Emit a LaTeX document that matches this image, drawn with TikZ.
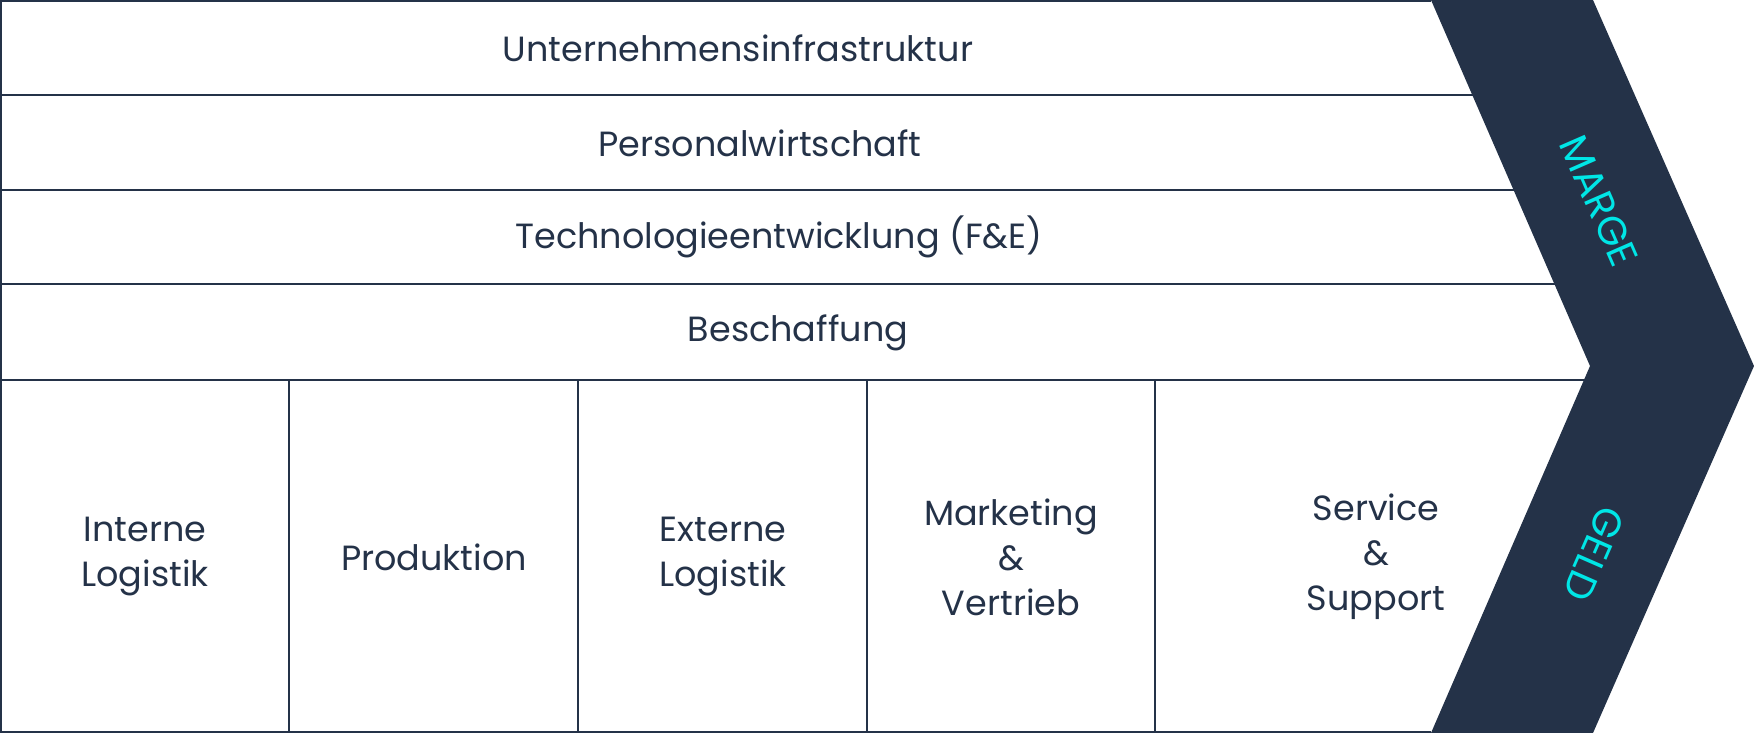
\documentclass[tikz,border=0pt]{standalone}
\usepackage{fontspec}
\setmainfont{Poppins}
\definecolor{navy}{HTML}{243248}
\definecolor{cyanl}{HTML}{00E6E6}
\begin{document}
\begin{tikzpicture}[x=1pt,y=-1pt]
\tikzset{
  frame/.style={draw=navy,line width=2pt},
  lbl/.style={text=navy,font=\fontsize{35}{45}\selectfont,align=center,inner sep=0pt},
  chev/.style={fill=navy},
  cylbl/.style={text=cyanl,font=\fontsize{40}{40}\selectfont,inner sep=0pt}
}
\useasboundingbox (0,0) rectangle (1754,733);
% frame lines
\draw[frame] (1431,1) -- (1,1) -- (1,732) -- (1431,732);
\draw[frame] (0,95) -- (1520,95);
\draw[frame] (0,190) -- (1540,190);
\draw[frame] (0,284) -- (1580,284);
\draw[frame] (0,380) -- (1600,380);
\foreach \x in {289,578,867,1155}
  \draw[frame] (\x,380) -- (\x,733);
% chevron
\fill[chev] (1431,0) -- (1593,0) -- (1754,366) -- (1593,733) -- (1431,733) -- (1590,366) -- cycle;
% labels
\node[lbl] (n1) at (738,48) {Unternehmensinfrastruktur};
\node[lbl] (n2) at (760,143) {Personalwirtschaft};
\node[lbl] (n3) at (779,237) {Technologieentwicklung (F\&E)};
\node[lbl] (n4) at (798,333) {Beschaffung};
\node[lbl] (c1) at (145,557) {Interne\\Logistik};
\node[lbl] (c2) at (434,557) {Produktion};
\node[lbl] (c3) at (723,557) {Externe\\Logistik};
\node[lbl] (c4) at (1011,557) {Marketing\\\&\\Vertrieb};
\node[lbl] (c5) at (1376,557) {Service\\\&\\Support};
\node[cylbl,rotate=-66.4] (marge) at (1599,201) {MARGE};
\node[cylbl,rotate=-113.6] (geld) at (1594,554) {GELD};
\end{tikzpicture}
\end{document}
